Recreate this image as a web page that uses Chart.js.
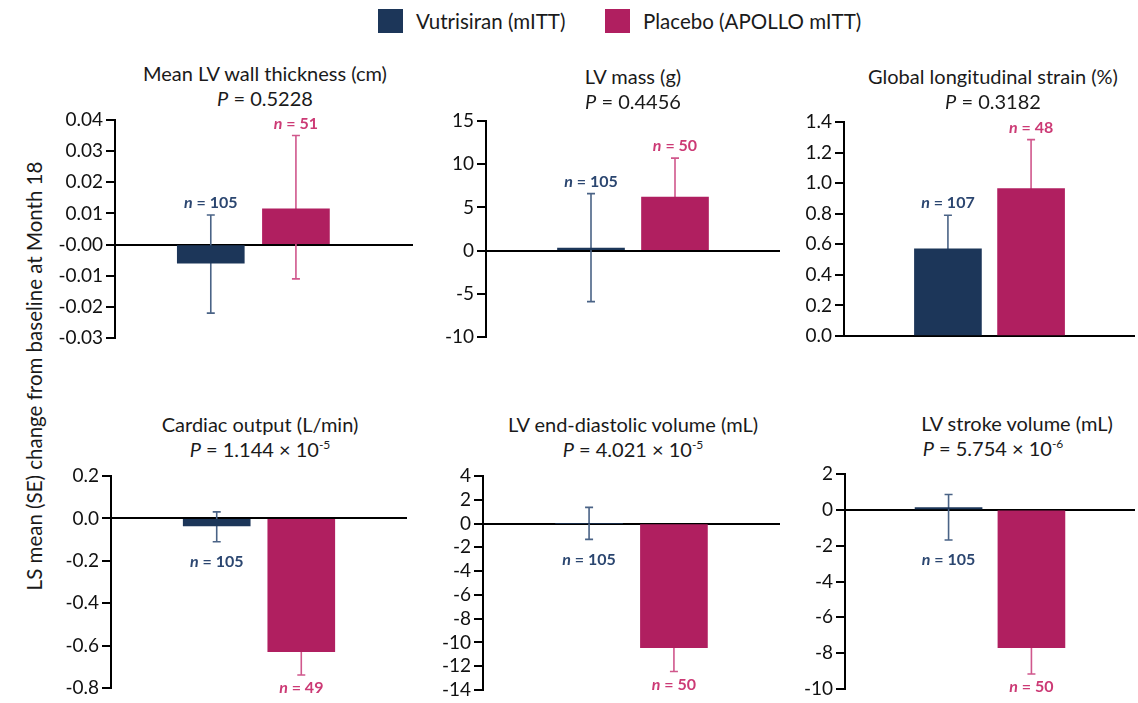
<!DOCTYPE html>
<html>
<head>
<meta charset="utf-8">
<script src="https://cdn.jsdelivr.net/npm/chart.js@4.4.1/dist/chart.umd.min.js"></script>
<style>
  html, body { margin: 0; padding: 0; background: #fff; }
  body { width: 1138px; height: 703px; position: relative; overflow: hidden; font-family: Lato, "Open Sans", sans-serif; color: #1a1a1a; }
  canvas { position: absolute; }
  .title { position: absolute; width: 440px; text-align: center; font-size: 20px; line-height: 24px; white-space: nowrap; }
  .title sup { font-size: 12px; vertical-align: 8px; line-height: 0; }
  .leg { position: absolute; width: 25px; height: 24px; }
  .legt { position: absolute; font-size: 20.5px; line-height: 24px; white-space: nowrap; }
  .ylab { position: absolute; left: 34px; top: 376px; transform: translate(-50%, -50%) rotate(-90deg); font-size: 20.5px; white-space: nowrap; }
</style>
</head>
<body>
<div class="leg" style="left:378px;top:9px;background:#1c3659;"></div>
<div class="legt" style="left:416px;top:9px;">Vutrisiran (mITT)</div>
<div class="leg" style="left:605px;top:9px;background:#b01f60;"></div>
<div class="legt" style="left:643px;top:9px;">Placebo (APOLLO mITT)</div>
<div class="ylab">LS mean (SE) change from baseline at Month 18</div>

<script>
// ---------------- DATA ----------------
const metrics = [
  'Mean LV wall thickness (cm)',
  'LV mass (g)',
  'Global longitudinal strain (%)',
  'Cardiac output (L/min)',
  'LV end-diastolic volume (mL)',
  'LV stroke volume (mL)'
];
const pMantissa = ['0.5228', '0.4456', '0.3182', '1.144', '4.021', '5.754'];
const pExponent = [null, null, null, '-5', '-5', '-6'];

const seriesNames = ['Vutrisiran (mITT)', 'Placebo (APOLLO mITT)'];

const vutMean    = [-0.006, 0.3,  0.57, -0.036,  0.0,   0.13];
const vutErrHigh = [0.0095, 6.6,  0.79,  0.031,  1.36,  0.86];
const vutErrLow  = [-0.022, -5.9, 0.35, -0.11,  -1.33, -1.68];
const vutN       = [105, 105, 107, 105, 105, 105];

const placeboMean    = [0.0115, 6.2,  0.965, -0.629, -10.45, -7.7];
const placeboErrHigh = [0.035,  10.7, 1.285, -0.519, -8.45,  -6.24];
const placeboErrLow  = [-0.011, 1.7,  0.645, -0.739, -12.45, -9.16];
const placeboN       = [51, 50, 48, 49, 50, 50];

const yTickValues = [
  [-0.03, -0.02, -0.01, 0, 0.01, 0.02, 0.03, 0.04],
  [-10, -5, 0, 5, 10, 15],
  [0, 0.2, 0.4, 0.6, 0.8, 1.0, 1.2, 1.4],
  [-0.8, -0.6, -0.4, -0.2, 0, 0.2],
  [-14, -12, -10, -8, -6, -4, -2, 0, 2, 4],
  [-10, -8, -6, -4, -2, 0, 2]
];
const yTickLabels = [
  ['-0.03', '-0.02', '-0.01', '-0.00', '0.01', '0.02', '0.03', '0.04'],
  ['-10', '-5', '0', '5', '10', '15'],
  ['0.0', '0.2', '0.4', '0.6', '0.8', '1.0', '1.2', '1.4'],
  ['-0.8', '-0.6', '-0.4', '-0.2', '0.0', '0.2'],
  ['-14', '-12', '-10', '-8', '-6', '-4', '-2', '0', '2', '4'],
  ['-10', '-8', '-6', '-4', '-2', '0', '2']
];

// ---------------- LAYOUT / STYLE ----------------
const FONT = 'Lato';
const VUT_COLOR = '#1c3659', PLA_COLOR = '#b01f60';
const VUT_ERR = '#4a6386', PLA_ERR = '#d0578c';
const VUT_TXT = '#2b4670', PLA_TXT = '#cc3a75';
const AXW = 80, PAD = 16;
// each plot's x axis is split into empty spacer slots; the two groups sit in slots `at`
const panels = [
  { left: 115, top: 120, bottom: 338, right: 413, tx: 265, ty: 73,  tx2: 265, side: 'up',   slots: 14, at: [4, 8] },
  { left: 486, top: 121, bottom: 337, right: 780, tx: 633, ty: 76,  tx2: 633, side: 'up',   slots: 7,  at: [2, 4] },
  { left: 844, top: 122, bottom: 336, right: 1135, tx: 993, ty: 76, tx2: 993, side: 'up',   slots: 7,  at: [2, 4] },
  { left: 111, top: 476, bottom: 688, right: 407, tx: 260, ty: 424, tx2: 260, side: 'down', slots: 7,  at: [2, 4] },
  { left: 483, top: 476, bottom: 690, right: 780, tx: 633, ty: 424, tx2: 633, side: 'down', slots: 7,  at: [2, 4] },
  { left: 845, top: 474, bottom: 689, right: 1135, tx: 1017, ty: 423, tx2: 993, side: 'down', slots: 7, at: [2, 4] }
];

function slotLabelsFor(p) {
  const labels = new Array(p.slots).fill('');
  p.at.forEach((s, k) => { labels[s] = seriesNames[k]; });
  return labels;
}
function slotData(labels, value, name) {
  return labels.map(l => (l === name ? value : null));
}

const errorBarPlugin = {
  id: 'errbars',
  beforeDatasetsDraw(chart) {
    const ys = chart.scales.y, ctx = chart.ctx;
    chart.data.datasets.forEach((ds, di) => {
      const meta = chart.getDatasetMeta(di);
      meta.data.forEach((bar, j) => {
        if (ds.data[j] === null) return;
        const x = bar.x;
        const y1 = ys.getPixelForValue(ds.errHigh);
        const y2 = ys.getPixelForValue(ds.errLow);
        ctx.save();
        ctx.strokeStyle = ds.errColor;
        ctx.lineWidth = 1.6;
        ctx.beginPath();
        ctx.moveTo(x, y1); ctx.lineTo(x, y2);
        ctx.moveTo(x - 4, y1); ctx.lineTo(x + 4, y1);
        ctx.moveTo(x - 4, y2); ctx.lineTo(x + 4, y2);
        ctx.stroke();
        ctx.restore();
      });
    });
  },
  afterDatasetsDraw(chart, args, opts) {
    const ys = chart.scales.y, ctx = chart.ctx;
    chart.data.datasets.forEach((ds, di) => {
      const meta = chart.getDatasetMeta(di);
      meta.data.forEach((bar, j) => {
        if (ds.data[j] === null) return;
        const x = bar.x;
        let y;
        if (opts.side === 'up') y = ys.getPixelForValue(ds.errHigh) - 12;
        else y = ys.getPixelForValue(ds.errLow) + ds.nOffsetDown;
        ctx.save();
        ctx.fillStyle = ds.nColor;
        ctx.textBaseline = 'middle';
        const fI = 'italic bold 16px ' + FONT, fR = 'bold 16px ' + FONT;
        const rest = ' = ' + ds.nValue;
        ctx.font = fI; const w1 = ctx.measureText('n').width;
        ctx.font = fR; const w2 = ctx.measureText(rest).width;
        const x0 = x - (w1 + w2) / 2;
        ctx.font = fI; ctx.textAlign = 'left'; ctx.fillText('n', x0, y);
        ctx.font = fR; ctx.fillText(rest, x0 + w1, y);
        ctx.restore();
      });
    });
  }
};

panels.forEach((p, i) => {
  // title
  const t = document.createElement('div');
  t.className = 'title';
  t.style.left = (p.tx - 220) + 'px';
  t.style.top = (p.ty - 12) + 'px';
  t.textContent = metrics[i];
  document.body.appendChild(t);
  const t2 = document.createElement('div');
  t2.className = 'title';
  t2.style.left = (p.tx2 - 220) + 'px';
  t2.style.top = (p.ty + 13) + 'px';
  t2.innerHTML = '<i>P</i> = ' + pMantissa[i] + (pExponent[i] ? ' × 10<sup>' + pExponent[i] + '</sup>' : '');
  document.body.appendChild(t2);

  // canvas
  const cv = document.createElement('canvas');
  const cl = p.left - AXW, ct = p.top - PAD;
  const w = p.right - cl + 2, h = p.bottom - p.top + 2 * PAD;
  cv.width = w; cv.height = h;
  cv.style.left = cl + 'px'; cv.style.top = ct + 'px';
  cv.style.width = w + 'px'; cv.style.height = h + 'px';
  document.body.appendChild(cv);

  const vals = yTickValues[i], labs = yTickLabels[i];
  const labels = slotLabelsFor(p);
  new Chart(cv, {
    type: 'bar',
    data: {
      labels: labels,
      datasets: [
        { label: seriesNames[0], data: slotData(labels, vutMean[i], seriesNames[0]), backgroundColor: VUT_COLOR,
          errHigh: vutErrHigh[i], errLow: vutErrLow[i], errColor: VUT_ERR,
          nValue: vutN[i], nColor: VUT_TXT, nOffsetDown: 20 },
        { label: seriesNames[1], data: slotData(labels, placeboMean[i], seriesNames[1]), backgroundColor: PLA_COLOR,
          errHigh: placeboErrHigh[i], errLow: placeboErrLow[i], errColor: PLA_ERR,
          nValue: placeboN[i], nColor: PLA_TXT, nOffsetDown: 13 }
      ]
    },
    options: {
      responsive: false,
      animation: false,
      devicePixelRatio: 1,
      layout: { padding: { top: PAD, bottom: PAD, left: 0, right: 2 } },
      datasets: { bar: { barThickness: 67, borderWidth: 0, skipNull: true } },
      plugins: { legend: { display: false }, title: { display: false }, tooltip: { enabled: false },
                 errbars: { side: p.side } },
      scales: {
        x: { type: 'category', offset: true, stacked: true, display: false },
        y: {
          min: vals[0], max: vals[vals.length - 1],
          z: 1,
          afterBuildTicks: s => { s.ticks = vals.map(v => ({ value: v })); },
          afterFit: s => { s.width = AXW; },
          border: { display: true, color: '#000', width: 2 },
          grid: {
            color: c => (c.tick && c.tick.value === 0) ? '#000' : 'rgba(0,0,0,0)',
            lineWidth: 2, drawTicks: true, tickLength: 9, tickColor: '#000', tickWidth: 2
          },
          ticks: { autoSkip: false, color: '#111', padding: 3, font: { family: FONT, size: 19 },
                   callback: (v, idx) => labs[idx] }
        }
      }
    },
    plugins: [errorBarPlugin]
  });
});
</script>
</body>
</html>
